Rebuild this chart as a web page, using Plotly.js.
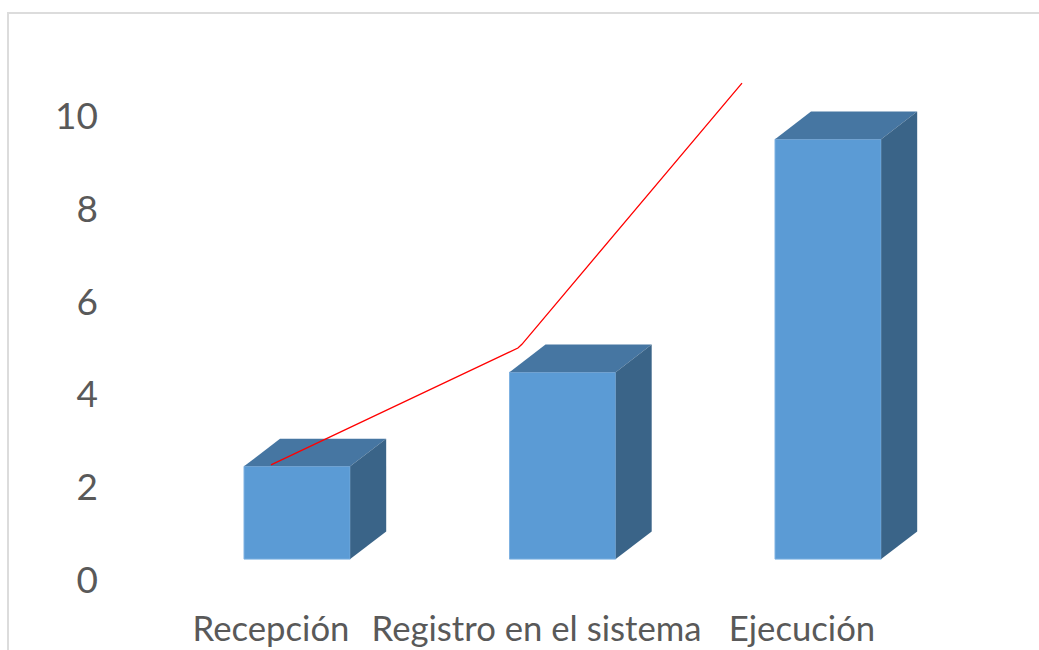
<!DOCTYPE html>
<html lang="es">
<head>
<meta charset="utf-8">
<title>Etapas del proceso</title>
<script src="https://cdn.plot.ly/plotly-3.0.1.min.js"></script>
<style>
  html, body { margin: 0; padding: 0; background: #ffffff; overflow: hidden; }
  #frame { position: absolute; left: 7px; top: 12px; right: 0; bottom: 0;
           border-top: 2px solid #dcdcdc; border-left: 2px solid #dcdcdc; }
  #chart { position: absolute; left: 0; top: 0; width: 1039px; height: 650px; }
</style>
</head>
<body>
<div id="frame"></div>
<div id="chart"></div>
<script>
// Stage names and column heights
const categories = ["Recepción", "Registro en el sistema", "Ejecución"];
const positions = [0, 1, 2];
const barValues = [2, 4.03, 9.05];

// Red trend line, in axis units
const lineX = [0, 0.93, 0.945, 1.774];
const lineY = [2.48, 5.0, 5.08, 10.71];

// Axis ticks
const yTicks = [0, 2, 4, 6, 8, 10];

// Pseudo-3D column geometry, in axis units
const barBase = 0.45;
const barOffset = -0.1017;
const barWidth = 0.4;
const depthX = 0.1356;
const depthY = 0.595;

const frontColor = "#5b9bd5";
const topColor = "#4676a2";
const sideColor = "#3a6488";

const faceTrace = (xs, ys, color) => ({
  type: "scatter", mode: "lines", x: xs, y: ys,
  fill: "toself", fillcolor: color,
  line: { width: 0, color: color }, hoverinfo: "skip", showlegend: false
});

const faces = [];
positions.forEach((p, i) => {
  const left = p + barOffset;
  const right = left + barWidth;
  const bottom = barBase;
  const top = barBase + barValues[i];
  faces.push(faceTrace(
    [left, right, right + depthX, left + depthX, left],
    [top, top, top + depthY, top + depthY, top], topColor));
  faces.push(faceTrace(
    [right, right + depthX, right + depthX, right, right],
    [bottom, bottom + depthY, top + depthY, top, bottom], sideColor));
});

const columns = {
  type: "bar", x: positions, y: barValues, base: barBase,
  offset: barOffset, width: barWidth,
  marker: { color: frontColor, line: { color: "#7fb2e2", width: 1 } },
  hoverinfo: "skip", showlegend: false
};

const trend = {
  type: "scatter", mode: "lines", x: lineX, y: lineY,
  line: { color: "#ff0000", width: 1.3, shape: "linear" },
  hoverinfo: "skip", showlegend: false, cliponaxis: false
};

const layout = {
  width: 1039, height: 650,
  margin: { l: 103, r: 79, t: 46, b: 70, pad: 0 },
  paper_bgcolor: "rgba(0,0,0,0)", plot_bgcolor: "rgba(0,0,0,0)",
  font: { family: "Lato, 'Noto Sans', sans-serif", color: "#595959", size: 34.7 },
  showlegend: false, hovermode: false,
  xaxis: {
    range: [-0.6328, 2.5951], tickmode: "array",
    tickvals: positions, ticktext: categories,
    showgrid: false, zeroline: false, showline: false, ticks: "",
    tickangle: 0, ticklabelstandoff: 25,
    tickfont: { size: 34.7, color: "#595959" }
  },
  yaxis: {
    range: [0, 11.509], tickmode: "array",
    tickvals: yTicks, ticktext: yTicks.map(String),
    showgrid: false, zeroline: false, showline: false, ticks: "",
    ticklabelstandoff: 4,
    tickfont: { size: 37, color: "#595959" }
  }
};

Plotly.newPlot("chart", [columns, ...faces, trend], layout,
  { displayModeBar: false, staticPlot: true });
</script>
</body>
</html>
